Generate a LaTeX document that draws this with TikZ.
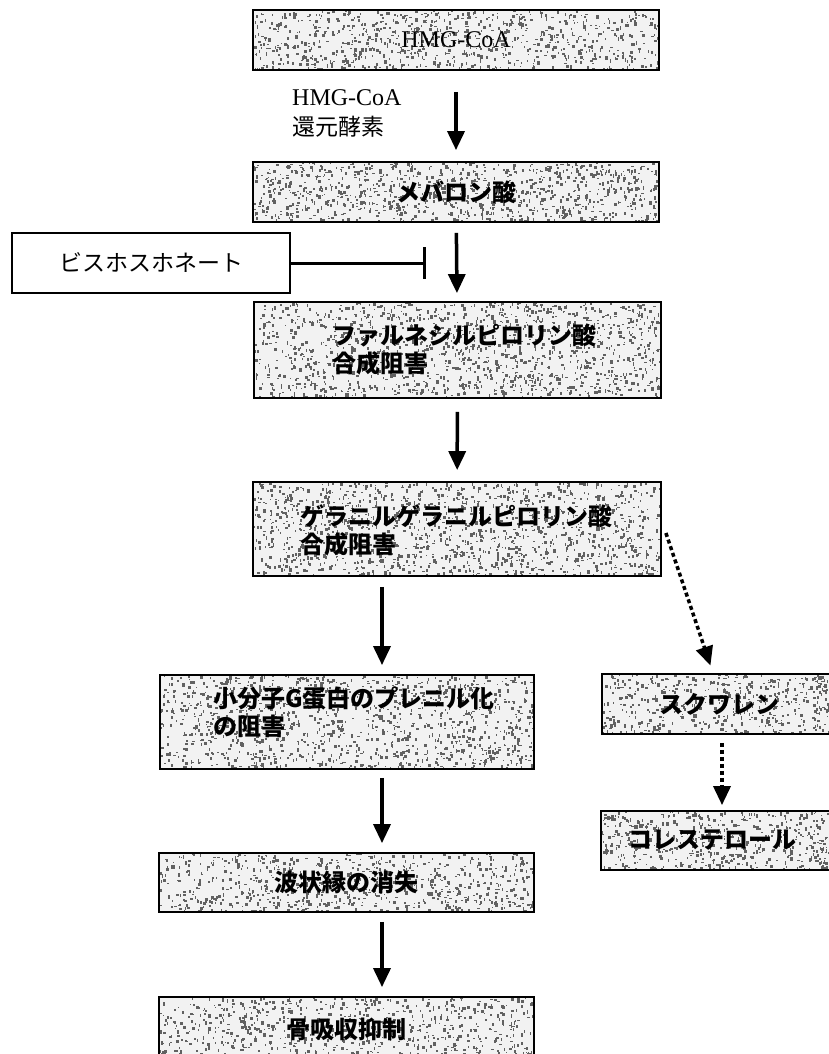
\documentclass[tikz,border=0pt]{standalone}
\usepackage{fontspec}
\setmainfont{Liberation Serif}
\newfontfamily\jp{Noto Sans CJK JP}
\usetikzlibrary{arrows.meta,backgrounds}
\newcommand\pbox[6]{% name, x1, y1, x2, y2, text
  \node[box, minimum width={#4pt-#2pt}, minimum height={#5pt-#3pt}] (#1) at ({(#2+#4)/2},{(#3+#5)/2}) {#6};}
\newcommand\speck[5]{% x1 y1 x2 y2 count
  \begin{scope}[on background layer]
   \begin{scope}
    \fill[black!5] (#1,#2) rectangle (#3,#4);
    \clip (#1,#2) rectangle (#3,#4);
    \foreach \k in {1,...,#5}{%
      \pgfmathsetmacro\sx{#1+rnd*(#3-#1)}%
      \pgfmathsetmacro\sy{#2+rnd*(#4-#2)}%
      \pgfmathsetmacro\sw{0.8+rnd*2.4}%
      \pgfmathsetmacro\sh{0.8+rnd*3.0}%
      \fill[black!62] (\sx,\sy) rectangle ++(\sw,\sh);}
   \end{scope}
  \end{scope}}
\begin{document}
\begin{tikzpicture}[x=1pt,y=-1pt,
  box/.style={draw, line width=1.8pt, inner sep=0pt, font=\jp\bfseries\fontsize{24}{28}\selectfont},
  plainbox/.style={draw, line width=1.8pt, fill=white, inner sep=0pt, font=\jp\fontsize{23}{28}\selectfont},
  boxtext/.style={inner sep=0pt, anchor=west, align=left, font=\jp\bfseries\fontsize{24}{28}\selectfont},
  arr/.style={line width=3.5pt, -{Triangle[length=19pt,width=17pt]}},
  darr/.style={arr, dash pattern=on 4pt off 3pt},
  inh/.style={line width=3pt, -{Bar[width=32pt,line width=3.5pt]}}]
\pgfmathsetseed{7}
\useasboundingbox (0,0) rectangle (829,1054);

% boxes
\pbox{hmg}{253}{10}{659}{70}{\rmfamily\mdseries\fontsize{24}{28}\selectfont HMG-CoA}
\speck{253}{10}{659}{70}{850}
\pbox{mev}{253}{162}{659}{222}{メバロン酸}
\speck{253}{162}{659}{222}{1000}
\node[plainbox, minimum width=278pt, minimum height=60pt] (bis) at (151,263) {ビスホスホネート};
\pbox{fpp}{254}{302}{661}{398}{}
\speck{254}{302}{661}{398}{1400}
\node[boxtext] (fppt) at (332,349) {ファルネシルピロリン酸\\合成阻害};
\pbox{ggpp}{253}{482}{661}{576}{}
\speck{253}{482}{661}{576}{1400}
\node[boxtext] (ggppt) at (300,530) {ゲラニルゲラニルピロリン酸\\合成阻害};
\pbox{smg}{160}{675}{534}{769}{}
\speck{160}{675}{534}{769}{1200}
\node[boxtext] (smgt) at (213,712) {小分子G蛋白のプレニル化\\の阻害};
\pbox{wave}{159}{853}{534}{912}{波状縁の消失}
\speck{159}{853}{534}{912}{720}
\pbox{bone}{159}{997}{534}{1062}{骨吸収抑制}
\speck{159}{997}{534}{1062}{800}
\pbox{sq}{602}{674}{836}{734}{スクワレン}
\speck{602}{674}{836}{734}{520}
\pbox{chol}{601}{811}{836}{870}{\hspace*{-12pt}コレステロール}
\speck{601}{811}{836}{870}{560}

% enzyme label
\node[inner sep=0pt, anchor=north west, align=left, font=\fontsize{24}{30}\selectfont] (enz) at (292,89)
  {HMG-CoA\\{\jp\fontsize{23}{30}\selectfont 還元酵素}};

% helper coordinates
\coordinate (cx4) at (382,0);
\coordinate (cx7) at (713,0);
\coordinate (cx8) at (722,0);
\coordinate (tb) at (426,263);

% connectors
\draw[arr, shorten <=21pt, shorten >=11pt] (hmg) -- (mev);
\draw[arr, shorten <=10pt, shorten >=8pt] (mev) -- (fpp);
\draw[inh] (bis.east) -- (tb);
\draw[arr, shorten <=13pt, shorten >=11pt] (fpp) -- (ggpp);
\draw[arr, shorten <=10pt, shorten >=9pt] (ggpp.south -| cx4) -- (smg.north -| cx4);
\draw[arr, shorten <=8pt, shorten >=9pt] (smg.south -| cx4) -- (wave.north -| cx4);
\draw[arr, shorten <=9pt, shorten >=9pt] (wave.south -| cx4) -- (bone.north -| cx4);
\draw[darr, shorten >=8pt] ([xshift=4pt,yshift=-4pt]ggpp.east) -- (sq.north -| cx7);
\draw[darr, shorten <=8pt, shorten >=5pt] (sq.south -| cx8) -- (chol.north -| cx8);
\end{tikzpicture}
\end{document}
